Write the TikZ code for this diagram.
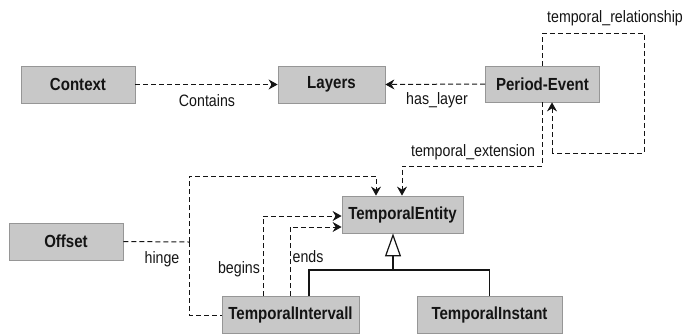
\documentclass[tikz,border=0pt]{standalone}
\usepackage{fontspec}
\setmainfont{Liberation Sans}[FakeStretch=0.86]
\usetikzlibrary{arrows.meta}
\definecolor{boxfill}{RGB}{200,200,200}
\definecolor{boxline}{RGB}{150,150,150}
\definecolor{ink}{RGB}{20,20,20}
\tikzset{
  umlbox/.style={rectangle, fill=boxfill, draw=boxline, line width=0.8pt, inner sep=0pt,
    font=\fontsize{17.5}{20}\selectfont\bfseries, text=ink},
  dep/.style={draw=ink, line width=1pt, dash pattern=on 5pt off 3pt},
  deparrow/.style={dep, -{Stealth[length=9pt, width=10pt, inset=3pt]}},
  gen/.style={draw=ink, line width=1.2pt},
  genarrow/.style={gen, -{Triangle[open, length=23pt, width=16pt, fill=white]}},
  lbl/.style={font=\fontsize{16.5}{18}\selectfont, text=ink, inner sep=0pt}
}
\begin{document}
\begin{tikzpicture}[x=1pt, y=-1pt]
\useasboundingbox (0,0) rectangle (686,333);
\clip (0,0) rectangle (686,333);
% boxes
\node[umlbox, minimum width=114pt, minimum height=37pt] (ctx) at (78,84.5) {Context};
\node[umlbox, minimum width=107pt, minimum height=37pt] (lay) at (331.5,84.5) {Layers};
\node[umlbox, minimum width=114pt, minimum height=36pt] (pe) at (542.5,84) {Period-Event};
\node[umlbox, minimum width=121pt, minimum height=37pt] (te) at (402.5,214.5) {TemporalEntity};
\node[umlbox, minimum width=114pt, minimum height=37pt] (off) at (66,241.5) {Offset};
\node[umlbox, minimum width=137pt, minimum height=37pt] (ti) at (290.5,315) {TemporalIntervall};
\node[umlbox, minimum width=145pt, minimum height=37pt] (tin) at (489.5,315) {TemporalInstant};
% helper coordinates
\coordinate (trtop) at (644,33);
\coordinate (trbot) at (552,153);
\coordinate (tebend) at (402,166);
\coordinate (hj) at (189,242);
\coordinate (htop) at (376,176);
\coordinate (bg) at (263,216);
\coordinate (en) at (290,227);
\coordinate (gj) at (393,270);
% dependencies
\draw[deparrow] (ctx.east) -- (lay.west);
\draw[deparrow] (pe.west) -- (lay.east);
\draw[dep] (pe.north) |- (trtop) |- (trbot);
\draw[deparrow] (trbot) -- (trbot |- pe.south);
\draw[deparrow] (pe.south) |- (tebend) -- (tebend |- te.north);
\draw[dep] (off.east) -- (hj);
\draw[deparrow] (hj) |- (htop) -- (htop |- te.north);
\draw[dep] (hj) |- (ti.west);
\draw[deparrow] (ti.north -| bg) |- (te.west |- bg);
\draw[deparrow] (ti.north -| en) |- (te.west |- en);
% generalisation
\draw[gen] (ti.north -| 309,0) |- (gj);
\draw[gen] (tin.north) |- (gj);
\draw[genarrow] (gj) -- (gj |- te.south);
% labels
\node[lbl] (lcont) at (207,101) {Contains};
\node[lbl] (lhas) at (437,100) {has\_layer};
\node[lbl] (ltr) at (615,18) {temporal\_relationship};
\node[lbl] (lte) at (473,152) {temporal\_extension};
\node[lbl] (lhin) at (162,259) {hinge};
\node[lbl] (lbeg) at (239,269) {begins};
\node[lbl] (lend) at (308,257) {ends};
\end{tikzpicture}
\end{document}
